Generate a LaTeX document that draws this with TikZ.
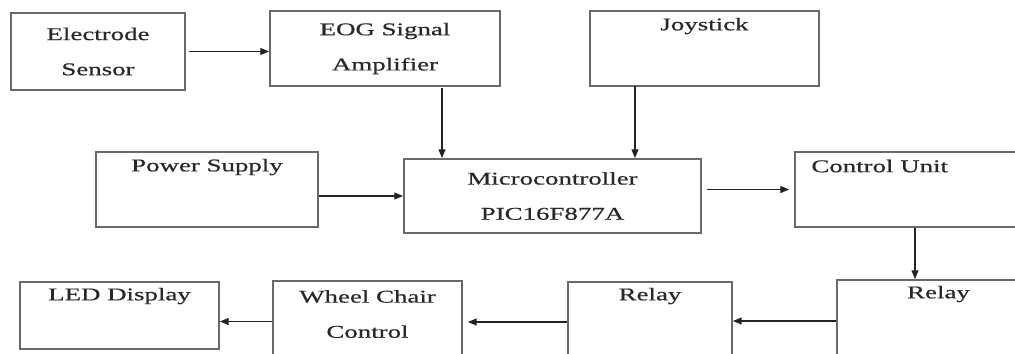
\documentclass[tikz,border=0pt]{standalone}
\usepackage{fontspec}
\setmainfont[FakeStretch=1.5,FakeBold=0.6]{Liberation Serif}
\usetikzlibrary{arrows.meta,positioning,calc}
\definecolor{boxcolor}{RGB}{105,105,105}
\definecolor{txtcolor}{RGB}{40,40,40}
\definecolor{arrcolor}{RGB}{35,35,35}
\tikzstyle{block}=[draw=boxcolor,line width=1.1pt,inner sep=0pt,text=txtcolor,align=center,font={\fontsize{10.2}{20}\selectfont}]
\tikzstyle{toplabel}=[text=txtcolor,anchor=center,inner sep=0pt,align=center,font={\fontsize{10.2}{20}\selectfont}]
\tikzstyle{sigedge}=[-{Triangle[length=5pt,width=4pt]},line width=0.6pt,arrcolor]

\begin{document}
\begin{tikzpicture}[x=0.02cm,y=-0.02cm]
    \useasboundingbox (0,0) rectangle (1015,353);
    \fill[white] (0,0) rectangle (1015,353);
    \clip (0,0) rectangle (1015,353);

    % top row
    \node[block, minimum width=3.48cm, minimum height=1.54cm] (elec) at (98,51.5) {Electrode\\Sensor};
    \node[block, minimum width=4.6cm, minimum height=1.5cm] (eog) at (385,48.5) {EOG Signal\\Amplifier};
    \node[block, minimum width=4.58cm, minimum height=1.5cm,
        label={[toplabel,yshift=-0.32cm]north:Joystick}] (joy) at (704.5,48.5) {};

    % middle row
    \node[block, minimum width=4.44cm, minimum height=1.5cm,
        label={[toplabel,yshift=-0.32cm]north:Power Supply}] (psu) at (207,189.5) {};
    \node[block, minimum width=5.94cm, minimum height=1.48cm] (mcu) at (552.5,196) {Microcontroller\\PIC16F877A};
    \node[block, minimum width=4.8cm, minimum height=1.5cm,
        label={[toplabel,anchor=west,xshift=0.34cm,yshift=-0.3cm]north west:Control Unit}] (ctrl) at (915,189.5) {};

    % bottom row (runs off the page)
    \node[block, minimum width=4.06cm, minimum height=1.64cm,
        label={[toplabel,yshift=-0.3cm]north:Relay}] (relay2) at (938.5,321) {};
    \node[block, minimum width=3.28cm, minimum height=1.6cm,
        label={[toplabel,yshift=-0.3cm]north:Relay}] (relay1) at (650,322) {};
    \node[block, minimum width=3.78cm, minimum height=1.62cm,
        label={[toplabel,yshift=-0.68cm]north:{Wheel Chair\\Control}}] (wcc) at (367.5,321.5) {};
    \node[block, minimum width=3.98cm, minimum height=1.34cm,
        label={[toplabel,yshift=-0.3cm]north:LED Display}] (led) at (119.5,315.5) {};

    \coordinate (eogout) at (442,88);
    \coordinate (joyout) at (635,86);

    \draw[sigedge, shorten <=1.7pt] (elec.east) -- (elec.east -| eog.west);
    \draw[sigedge] (eogout) -- (eogout |- mcu.north);
    \draw[sigedge] (joyout) -- (joyout |- mcu.north);
    \draw[sigedge] (psu.east |- mcu.west) -- (mcu.west);
    \draw[sigedge, shorten <=2.8pt, shorten >=2.8pt] (mcu.east |- ctrl.west) -- (ctrl.west);
    \draw[sigedge] (ctrl.south) -- (ctrl.south |- relay2.north);
    \draw[sigedge] (relay2.west) -- (relay2.west -| relay1.east);
    \draw[sigedge, shorten >=2.8pt] (relay1.west) -- (relay1.west -| wcc.east);
    \draw[sigedge] (wcc.west) -- (wcc.west -| led.east);
\end{tikzpicture}
\end{document}
